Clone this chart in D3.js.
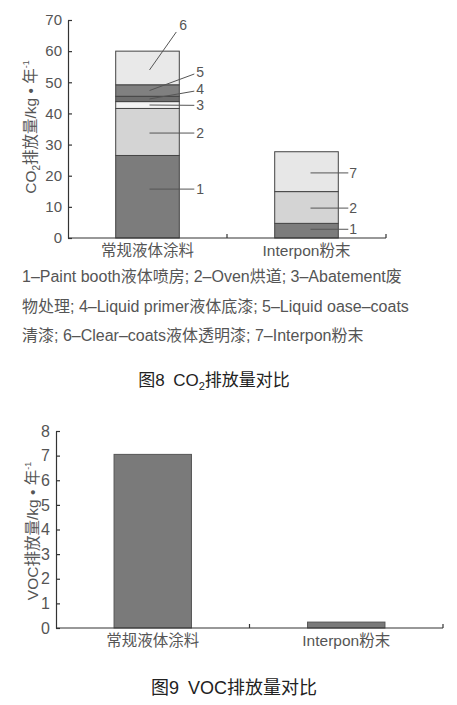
<!DOCTYPE html>
<html>
<head>
<meta charset="utf-8">
<script src="https://cdn.jsdelivr.net/npm/d3@7"></script>
<style>
  body { margin: 0; background: #fff; }
  svg { display: block; font-family: "Liberation Sans", "Noto Sans CJK SC", sans-serif; }
</style>
</head>
<body>
<div id="content"></div>
<script>
// chart data
var categories = ['常规液体涂料', 'Interpon粉末'];

// CO2 stack: segment id, which bar, value (kg/year)
var co2Ids = ['1', '2', '3', '4', '5', '6', '7'];
var co2Liquid = [26.5, 15.1, 2.2, 1.7, 3.7, 10.8, 0];
var co2Powder = [4.7, 10.2, 0, 0, 0, 0, 12.8];
var co2Ticks = [0, 10, 20, 30, 40, 50, 60, 70];

// where each callout number sits (value on the y axis)
var liquidLabelAt = [15.7, 33.7, 42.6, 47.8, 53.3, 68.4];
var powderLabelAt = [2.8, 9.6, 20.9];

var vocValues = [7.05, 0.24];
var vocTicks = [0, 1, 2, 3, 4, 5, 6, 7, 8];

var legendLines = [
  '1–Paint booth液体喷房; 2–Oven烘道; 3–Abatement废',
  '物处理; 4–Liquid primer液体底漆; 5–Liquid oase–coats',
  '清漆; 6–Clear–coats液体透明漆; 7–Interpon粉末'
];

var segFill = {'1': '#7c7c7c', '2': '#d4d4d4', '3': '#f3f3f3', '4': '#6e6e6e',
               '5': '#808080', '6': '#e9e9e9', '7': '#e7e7e7'};

var W = 457, H = 705;
var svg = d3.select('#content').append('svg')
  .attr('width', W).attr('height', H);

// ---------- Figure 8: CO2 ----------
var y1 = d3.scaleLinear().domain([0, 70]).range([238, 20]);
var x1 = d3.scaleBand().domain(categories).range([68, 386])
  .paddingInner(0.6).paddingOuter(0.3);

var stacks = [co2Liquid, co2Powder].map(function(vals, i) {
  var acc = 0, segs = [];
  vals.forEach(function(v, j) {
    if (v > 0) { segs.push({cat: categories[i], id: co2Ids[j], y0: acc, y1: acc + v}); acc += v; }
  });
  return segs;
});

var g1 = svg.append('g');
g1.selectAll('rect.seg')
  .data(stacks[0].concat(stacks[1]))
  .enter().append('rect')
  .attr('class', 'seg')
  .attr('x', function(d) { return x1(d.cat); })
  .attr('width', x1.bandwidth())
  .attr('y', function(d) { return y1(d.y1); })
  .attr('height', function(d) { return y1(d.y0) - y1(d.y1); })
  .attr('fill', function(d) { return segFill[d.id]; })
  .attr('stroke', '#444')
  .attr('stroke-width', 1);

// callouts for the liquid bar
var liq = stacks[0];
var cxL = x1(categories[0]) + x1.bandwidth() / 2;
var rightL = x1(categories[0]) + x1.bandwidth();
liq.forEach(function(d, i) {
  var mid = (d.y0 + d.y1) / 2;
  var ly = y1(liquidLabelAt[i]);
  var startY = (i < 2) ? ly : y1(mid);
  var endX = rightL + 15, tx = rightL + 17, ty = ly;
  if (d.id === '6') { endX = rightL - 3; startY = y1(mid) + 2; tx = rightL; ty = ly; }
  var endY = (d.id === '6') ? ly + 7 : ly + (i < 3 ? 0 : 2);
  g1.append('line')
    .attr('x1', cxL + 2).attr('y1', startY)
    .attr('x2', endX).attr('y2', endY)
    .attr('stroke', '#555').attr('stroke-width', 1);
  g1.append('text')
    .attr('x', tx).attr('y', ty).attr('dy', '0.35em')
    .attr('font-size', 14).attr('fill', '#555')
    .text(d.id);
});

// callouts for the powder bar
var pow = stacks[1];
var cxP = x1(categories[1]) + x1.bandwidth() / 2;
var rightP = x1(categories[1]) + x1.bandwidth();
pow.forEach(function(d, i) {
  var ly = y1(powderLabelAt[i]);
  g1.append('line')
    .attr('x1', cxP + 4).attr('y1', ly)
    .attr('x2', rightP + 10).attr('y2', ly)
    .attr('stroke', '#555').attr('stroke-width', 1);
  g1.append('text')
    .attr('x', rightP + 11).attr('y', ly).attr('dy', '0.35em')
    .attr('font-size', 14).attr('fill', '#555')
    .text(d.id);
});

// axes
function drawAxes(g, x, y, ticks, fs) {
  var ax = g.append('g').attr('transform', 'translate(' + x.range()[0] + ',0)')
    .call(d3.axisLeft(y).tickValues(ticks).tickSizeInner(-4).tickSizeOuter(0).tickPadding(6));
  ax.select('.domain').attr('stroke', '#333').attr('stroke-width', 1.2);
  ax.selectAll('.tick line').attr('stroke', '#333').attr('stroke-width', 1.2);
  ax.selectAll('.tick text').attr('font-size', fs).attr('fill', '#555')
    .attr('font-family', '"Liberation Sans", sans-serif');

  var y0 = y(0);
  g.append('line')
    .attr('x1', x.range()[0]).attr('x2', x.range()[1])
    .attr('y1', y0).attr('y2', y0)
    .attr('stroke', '#333').attr('stroke-width', 1.2);
  d3.range(1, categories.length + 1).forEach(function(i) {
    var tx = x.range()[0] + i * x.step();
    g.append('line').attr('x1', tx).attr('x2', tx)
      .attr('y1', y0).attr('y2', y0 - 4)
      .attr('stroke', '#333').attr('stroke-width', 1.2);
  });
  g.selectAll('text.cat')
    .data(categories)
    .enter().append('text')
    .attr('class', 'cat')
    .attr('x', function(d) { return x(d) + x.bandwidth() / 2; })
    .attr('y', y0 + 18)
    .attr('text-anchor', 'middle')
    .attr('font-size', 15.5).attr('fill', '#555')
    .text(function(d) { return d; });
}
drawAxes(g1, x1, y1, co2Ticks, 15);

// y label with sub/superscript
var yl1 = g1.append('text')
  .attr('transform', 'translate(36,127) rotate(-90)')
  .attr('text-anchor', 'middle')
  .attr('font-size', 15.5).attr('fill', '#555');
yl1.append('tspan').text('CO');
yl1.append('tspan').attr('font-size', 10).attr('dy', 4).text('2');
yl1.append('tspan').attr('dy', -4).text('排放量/kg • 年');
yl1.append('tspan').attr('font-size', 9).attr('dy', -7).text('-1');

// legend
svg.append('g').selectAll('text')
  .data(legendLines)
  .enter().append('text')
  .attr('x', 22)
  .attr('y', function(d, i) { return 282 + i * 29.5; })
  .attr('font-size', 16).attr('fill', '#555')
  .text(function(d) { return d; });

// caption
var cap8 = svg.append('text')
  .attr('x', 214).attr('y', 386)
  .attr('text-anchor', 'middle')
  .attr('font-size', 17).attr('fill', '#222');
cap8.append('tspan').text('图8\u2002CO');
cap8.append('tspan').attr('font-size', 11).attr('dy', 4).text('2');
cap8.append('tspan').attr('dy', -4).text('排放量对比');

// ---------- Figure 9: VOC ----------
var y2 = d3.scaleLinear().domain([0, 8]).range([628, 431]);
var x2 = d3.scaleBand().domain(categories).range([56, 443])
  .paddingInner(0.6).paddingOuter(0.3);

var g2 = svg.append('g');
g2.selectAll('rect.bar')
  .data(vocValues)
  .enter().append('rect')
  .attr('class', 'bar')
  .attr('x', function(d, i) { return x2(categories[i]); })
  .attr('width', x2.bandwidth())
  .attr('y', function(d) { return y2(d); })
  .attr('height', function(d) { return y2(0) - y2(d); })
  .attr('fill', '#7a7a7a')
  .attr('stroke', '#555').attr('stroke-width', 1);

drawAxes(g2, x2, y2, vocTicks, 16);

var yl2 = g2.append('text')
  .attr('transform', 'translate(38,531) rotate(-90)')
  .attr('text-anchor', 'middle')
  .attr('font-size', 15.5).attr('fill', '#555');
yl2.append('tspan').text('VOC排放量/kg • 年');
yl2.append('tspan').attr('font-size', 9).attr('dy', -7).text('-1');

svg.append('text')
  .attr('x', 234).attr('y', 694)
  .attr('text-anchor', 'middle')
  .attr('font-size', 18).attr('fill', '#222')
  .text('图9\u2002VOC排放量对比');
</script>
</body>
</html>
